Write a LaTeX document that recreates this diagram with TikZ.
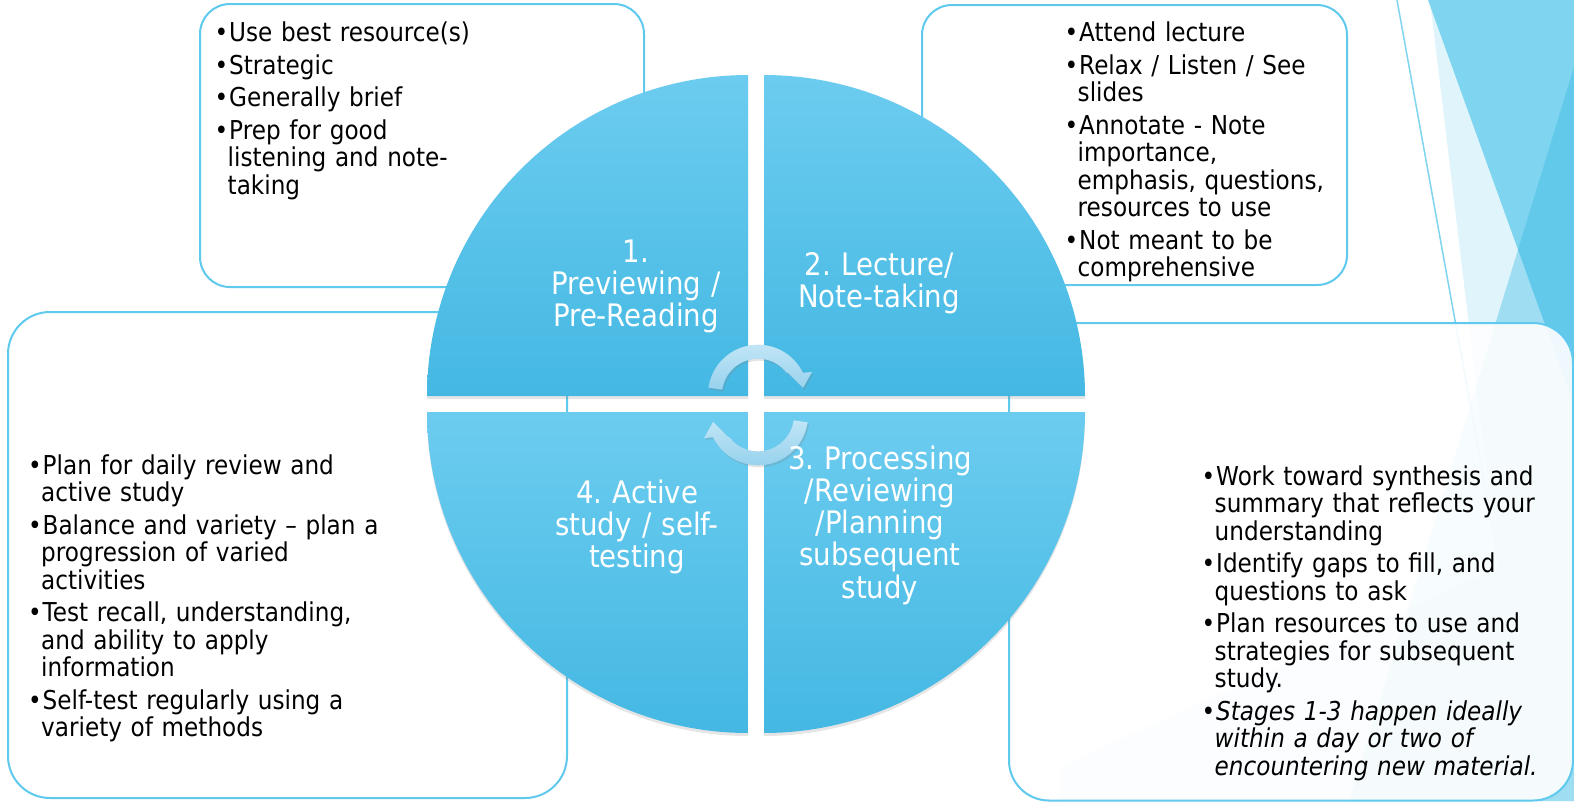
\documentclass[tikz,border=0pt]{standalone}
\usepackage{fontspec}
\setmainfont{DejaVu Sans}[FakeStretch=0.89]
\usetikzlibrary{shadows}
\frenchspacing
\definecolor{boxline}{RGB}{95,201,238}
\definecolor{qtop}{RGB}{108,204,239}
\definecolor{qbot}{RGB}{68,184,227}
\definecolor{tri1}{RGB}{127,212,239}
\definecolor{tri2}{RGB}{52,183,231}
\definecolor{tri3}{RGB}{224,244,251}
\definecolor{arrtop}{RGB}{192,229,246}
\definecolor{arrbot}{RGB}{152,210,237}
\newcommand\bul{\noindent\hangindent=13pt\hangafter=1\makebox[14.5pt][l]{•}}
\newcommand\gp{\par\vspace{5pt}}
\tikzset{
 boxframe/.style={draw=boxline, line width=2pt, fill=white},
 bodytext/.style={anchor=base west, inner sep=0pt, text width=420pt, align=left,
   font=\fontsize{26pt}{27.5pt}\selectfont\frenchspacing, text=black},
 quadtext/.style={anchor=base, inner sep=0pt, text width=260pt, align=center,
   font=\fontsize{31pt}{32.3pt}\selectfont\frenchspacing, text=white},
 quad/.style={top color=qtop, bottom color=qbot,
   drop shadow={opacity=0.2, shadow xshift=0pt, shadow yshift=-3pt}},
 cycarrow/.style={top color=arrtop, bottom color=arrbot,
   drop shadow={opacity=0.22, shadow xshift=1.5pt, shadow yshift=-2pt}},
}
\begin{document}
\begin{tikzpicture}[x=1pt,y=-1pt]
\useasboundingbox (0,0) rectangle (1574,801);
\fill[white] (0,0) rectangle (1574,801);
% background facets
\fill[tri3] (1430,0) -- (1526,801) -- (1574,801) -- (1574,400) -- cycle;
\fill[tri3] (1060,767) -- (1574,533) -- (1574,801) -- (1060,801) -- cycle;
\fill[tri1] (1428,0) -- (1574,0) -- (1574,405) -- cycle;
\fill[tri2, opacity=0.375] (1574,67) -- (1574,801) -- (1349,801) -- cycle;
\draw[tri1, line width=1.5pt] (1397,0) -- (1542,801);
% boxes
\draw[boxframe, rounded corners=30pt] (200,4) rectangle (644,287);
\draw[boxframe, rounded corners=30pt] (922,5) rectangle (1347,285);
\draw[boxframe, rounded corners=42pt] (8,312) rectangle (567,798);
\draw[boxframe, fill opacity=0.9, rounded corners=40pt] (1009,323) rectangle (1573,800.5);
% quadrants
\path[quad] (748,396) -- plot[domain=180:270,samples=80] ({748+321*cos(\x)},{396+321*sin(\x)}) -- cycle;
\path[quad] (764,396) -- plot[domain=270:360,samples=80] ({764+321*cos(\x)},{396+321*sin(\x)}) -- cycle;
\path[quad] (764,412) -- plot[domain=0:90,samples=80] ({764+321*cos(\x)},{412+321*sin(\x)}) -- cycle;
\path[quad] (748,412) -- plot[domain=90:180,samples=80] ({748+321*cos(\x)},{412+321*sin(\x)}) -- cycle;
% cycle arrows
\path[cycarrow] plot[domain=188:334,samples=40] ({758+50*cos(\x)},{394.7+50*sin(\x)})
  -- (812,372) -- (803,388) -- (788,373)
  -- plot[domain=322:188,samples=40] ({758+36*cos(\x)},{394.7+36*sin(\x)}) -- cycle;
\path[cycarrow] plot[domain=8:154,samples=40] ({758+50*cos(\x)},{415.3+50*sin(\x)})
  -- (704,438) -- (713,422) -- (728,437)
  -- plot[domain=142:8,samples=40] ({758+36*cos(\x)},{415.3+36*sin(\x)}) -- cycle;
% box texts
\node[bodytext] (t1) at (214.5,41.5) {\bul Use best resource(s)\gp
 \bul Strategic\gp
 \bul Generally brief\gp
 \bul Prep for good\newline listening and note-\newline taking\par};
\node[bodytext] (t2) at (1064.5,41.7) {\bul Attend lecture\gp
 \bul Relax / Listen / See\newline slides\gp
 \bul Annotate - Note\newline importance,\newline emphasis, questions,\newline resources to use\gp
 \bul Not meant to be\newline comprehensive\par};
\node[bodytext] (t4) at (28,474) {\bul Plan for daily review and\newline active study\gp
 \bul Balance and variety – plan a\newline progression of varied\newline activities\gp
 \bul Test recall, understanding,\newline and ability to apply\newline information\gp
 \bul Self-test regularly using a\newline variety of methods\par};
\node[bodytext] (t3) at (1201.5,485) {\bul Work toward synthesis and\newline summary that reflects your\newline understanding\gp
 \bul Identify gaps to fill, and\newline questions to ask\gp
 \bul Plan resources to use and\newline strategies for subsequent\newline study.\gp
 \bul\textit{Stages 1-3 happen ideally\newline within a day or two of\newline encountering new material.}\par};
% quadrant labels
\node[quadtext] (q1) at (636,262) {1.\\Previewing /\\Pre-Reading};
\node[quadtext] (q2) at (879,275) {2. Lecture/\\Note-taking};
\node[quadtext] (q4) at (637,503) {4. Active\\study / self-\\testing};
\node[quadtext] (q3) at (880,469) {3. Processing\\/Reviewing\\/Planning\\subsequent\\study};
\end{tikzpicture}
\end{document}
